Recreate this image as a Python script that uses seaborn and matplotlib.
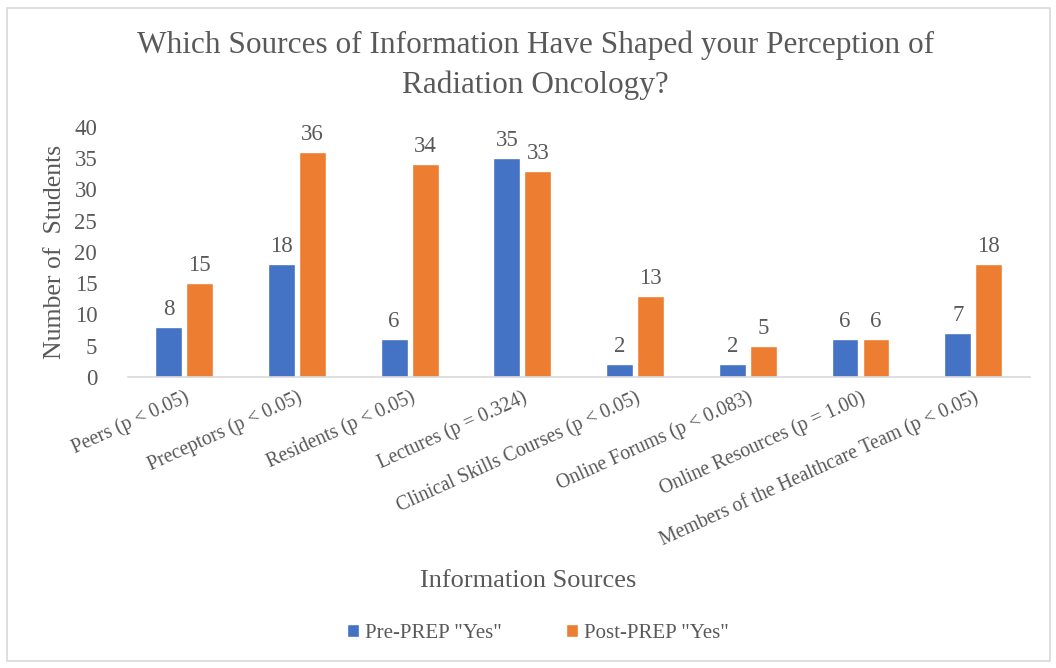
import pandas as pd
import matplotlib.pyplot as plt
import seaborn as sns
from matplotlib.patches import Rectangle

# values
SOURCES = ['Peers (p < 0.05)', 'Preceptors (p < 0.05)', 'Residents (p < 0.05)',
           'Lectures (p = 0.324)', 'Clinical Skills Courses (p < 0.05)',
           'Online Forums (p < 0.083)', 'Online Resources (p = 1.00)',
           'Members of the Healthcare Team (p < 0.05)']
PRE_YES = [8, 18, 6, 35, 2, 2, 6, 7]
POST_YES = [15, 36, 34, 33, 13, 5, 6, 18]
SERIES = ['Pre-PREP "Yes"', 'Post-PREP "Yes"']
COLORS = ['#4472C4', '#ED7D31']
TXT = '#595959'

df = pd.DataFrame({
    'Source': SOURCES * 2,
    'Group': [SERIES[0]] * len(SOURCES) + [SERIES[1]] * len(SOURCES),
    'Students': PRE_YES + POST_YES,
})

sns.set_theme(style='white')
plt.rcParams['font.family'] = ['Liberation Serif', 'DejaVu Serif']

fig = plt.figure(figsize=(10.56, 6.68), dpi=100)
ax = fig.add_axes([0.121, 0.436, 0.854, 0.374])

sns.barplot(data=df, x='Source', y='Students', hue='Group', palette=COLORS,
            saturation=1, width=0.55, gap=0.13, ax=ax, legend=True)

for cont in ax.containers:
    ax.bar_label(cont, padding=5, fontsize=16.5, color=TXT)

ax.set_ylim(0, 40)
ax.set_yticks(range(0, 41, 5))
ax.tick_params(axis='y', labelsize=16.5, labelcolor=TXT, length=0, pad=22)
ax.tick_params(axis='x', labelsize=14.2, labelcolor=TXT, length=0, pad=8)
plt.setp(ax.get_xticklabels(), rotation=24.5, ha='right', rotation_mode='anchor')

for s in ['top', 'right', 'left']:
    ax.spines[s].set_visible(False)
ax.spines['bottom'].set_color('#D9D9D9')
ax.spines['bottom'].set_linewidth(1.2)

ax.set_ylabel('Number of  Students', fontsize=18.5, color=TXT, labelpad=6)
ax.set_xlabel('')
fig.text(0.50, 0.13, 'Information Sources', ha='center', va='center',
         fontsize=19, color=TXT)

fig.text(0.507, 0.902, 'Which Sources of Information Have Shaped your Perception of\nRadiation Oncology?',
         ha='center', va='center', fontsize=22.5, color=TXT, linespacing=1.48)

leg = ax.legend(loc='center', bbox_to_anchor=(0.5095, 0.052), bbox_transform=fig.transFigure,
                ncol=2, frameon=False, fontsize=15, handlelength=0.55, handleheight=0.55,
                columnspacing=3.1, handletextpad=0.3)
for t in leg.get_texts():
    t.set_color(TXT)

fig.patches.append(Rectangle((0.007, 0.01), 0.987, 0.978, transform=fig.transFigure,
                             fill=False, edgecolor='#D9D9D9', linewidth=1.2))

fig.savefig('out.png', dpi=100)
